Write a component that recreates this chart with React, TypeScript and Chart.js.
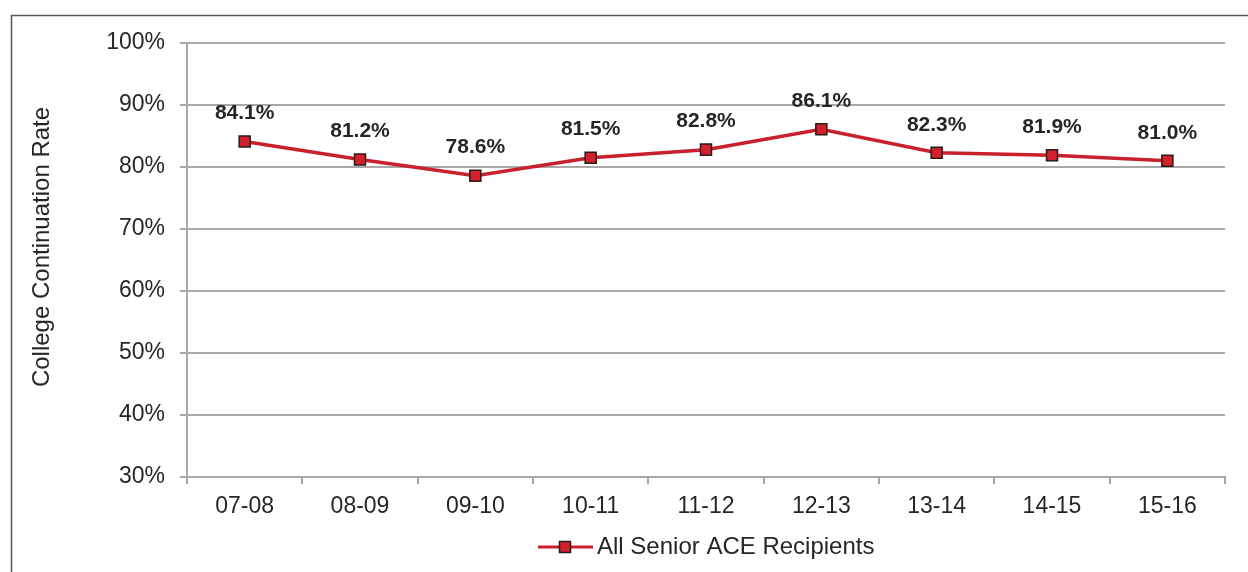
import React, { useEffect, useRef } from "react";
import { Chart, registerables } from "chart.js";

Chart.register(...registerables);

const categories = ["07-08", "08-09", "09-10", "10-11", "11-12", "12-13", "13-14", "14-15", "15-16"];
const rates = [84.1, 81.2, 78.6, 81.5, 82.8, 86.1, 82.3, 81.9, 81.0];
const seriesName = "All Senior ACE Recipients";
const yTitle = "College Continuation Rate";
const yMin = 30;
const yMax = 100;
const yStep = 10;

const RED = "#C8202D";
const MARKER_FILL = "#D2202C";
const MARKER_BORDER = "#2a1a1a";
const GRID = "#A8A8A8";
const TEXT = "#262626";
const FONT = "'Liberation Sans', Arial, Helvetica, sans-serif";

const decorPlugin = {
  id: "decor",
  beforeDraw(chart: any) {
    const ctx = chart.ctx;
    ctx.save();
    ctx.strokeStyle = "#555555";
    ctx.lineWidth = 1.5;
    ctx.beginPath();
    ctx.moveTo(11.5, 600);
    ctx.lineTo(11.5, 15.5);
    ctx.lineTo(1260, 15.5);
    ctx.stroke();
    ctx.restore();
  },
  afterDraw(chart: any) {
    const ctx = chart.ctx;
    ctx.save();
    // y axis title
    ctx.fillStyle = TEXT;
    ctx.font = `24px ${FONT}`;
    ctx.textAlign = "center";
    ctx.textBaseline = "middle";
    ctx.translate(42, 247);
    ctx.rotate(-Math.PI / 2);
    ctx.fillText(yTitle, 0, 0);
    ctx.restore();

    // data labels
    const meta = chart.getDatasetMeta(0);
    ctx.save();
    ctx.fillStyle = TEXT;
    ctx.font = `bold 21px ${FONT}`;
    ctx.textAlign = "center";
    ctx.textBaseline = "middle";
    meta.data.forEach((pt: any, i: number) => {
      ctx.fillText(rates[i].toFixed(1) + "%", pt.x, pt.y - 28);
    });
    ctx.restore();

    // legend
    ctx.save();
    const ly = 547;
    ctx.strokeStyle = RED;
    ctx.lineWidth = 3;
    ctx.beginPath();
    ctx.moveTo(538, ly);
    ctx.lineTo(593, ly);
    ctx.stroke();
    ctx.fillStyle = MARKER_FILL;
    ctx.strokeStyle = MARKER_BORDER;
    ctx.lineWidth = 1.5;
    ctx.fillRect(559.5, ly - 5.5, 11, 11);
    ctx.strokeRect(559.5, ly - 5.5, 11, 11);
    ctx.fillStyle = TEXT;
    ctx.font = `24px ${FONT}`;
    ctx.textAlign = "left";
    ctx.textBaseline = "middle";
    ctx.fillText(seriesName, 597, ly);
    ctx.restore();
  },
};

export default function App() {
  const ref = useRef<HTMLCanvasElement | null>(null);

  useEffect(() => {
    if (!ref.current) return;
    const chart = new Chart(ref.current, {
      type: "line",
      data: {
        labels: categories,
        datasets: [
          {
            label: seriesName,
            data: rates,
            borderColor: RED,
            borderWidth: 3.5,
            backgroundColor: MARKER_FILL,
            pointStyle: "rect",
            pointRadius: 7.8,
            pointBorderWidth: 1.5,
            pointBorderColor: MARKER_BORDER,
            pointBackgroundColor: MARKER_FILL,
            tension: 0,
          },
        ],
      },
      options: {
        animation: false,
        responsive: false,
        devicePixelRatio: 1,
        layout: { padding: { left: 0, right: 23, top: 43, bottom: 0 } },
        plugins: {
          legend: { display: false },
          tooltip: { enabled: false },
        },
        scales: {
          x: {
            type: "category",
            offset: true,
            afterFit: (s: any) => {
              s.height = 95;
            },
            grid: {
              display: true,
              drawOnChartArea: false,
              drawTicks: true,
              tickLength: 7,
              offset: true,
              color: GRID,
              lineWidth: 2,
            },
            border: { display: true, color: GRID, width: 2 },
            ticks: {
              color: TEXT,
              font: { family: FONT, size: 23 },
              padding: 9,
              maxRotation: 0,
              autoSkip: false,
            },
          },
          y: {
            min: yMin,
            max: yMax,
            afterFit: (s: any) => {
              s.width = 187;
            },
            grid: {
              color: GRID,
              lineWidth: 2,
              drawTicks: true,
              tickLength: 7,
            },
            border: { display: true, color: GRID, width: 2 },
            ticks: {
              stepSize: yStep,
              color: TEXT,
              font: { family: FONT, size: 23 },
              padding: 15,
              callback: (v: any) => v + "%",
            },
          },
        },
      },
      plugins: [decorPlugin],
    });
    return () => chart.destroy();
  }, []);

  return (
    <div style={{ position: "absolute", left: 0, top: 0, width: 1248, height: 572, background: "#fff" }}>
      <canvas ref={ref} width={1248} height={572} style={{ display: "block" }} />
    </div>
  );
}
